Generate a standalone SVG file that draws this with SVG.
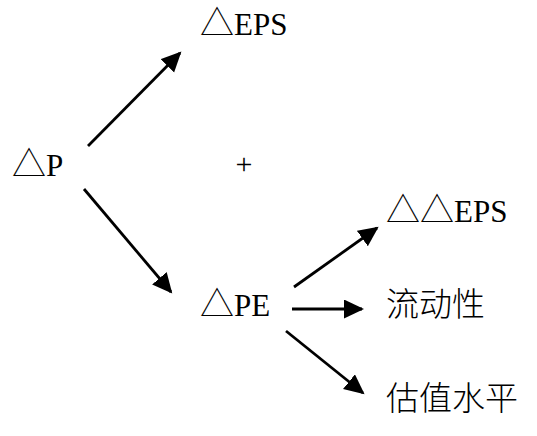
<svg xmlns="http://www.w3.org/2000/svg" width="537" height="436" viewBox="0 0 537 436">
<style>
.t{font-family:"Liberation Serif","Noto Sans CJK SC",serif;font-size:31px;fill:#000}
.d{font-family:"Noto Sans CJK SC",sans-serif;font-size:34px;font-weight:300}
.c{font-family:"Noto Sans CJK SC","Liberation Serif",sans-serif;font-size:33px;font-weight:300;fill:#000}
.a{stroke:#000;stroke-width:2.8;fill:none;marker-end:url(#ah)}
</style>
<defs>
<marker id="ah" markerUnits="userSpaceOnUse" markerWidth="22" markerHeight="20" refX="18" refY="9.5" orient="auto">
<path d="M0,0 L20,9.5 L0,19 z" fill="#000"/>
</marker>
</defs>
<rect width="537" height="436" fill="#fff"/>
<g id="connectors">
<line class="a" x1="88" y1="146" x2="180" y2="53"/>
<line class="a" x1="84" y1="189" x2="171" y2="292"/>
<line class="a" x1="294" y1="287" x2="377" y2="228"/>
<line class="a" x1="292" y1="309" x2="362" y2="309"/>
<line class="a" x1="286" y1="331" x2="363" y2="393"/>
</g>
<g id="dP"><text class="t" x="12" y="176"><tspan class="d">△</tspan>P</text></g>
<g id="dEPS"><text class="t" x="200" y="35"><tspan class="d">△</tspan>EPS</text></g>
<g id="plus"><text class="t" x="244" y="174" text-anchor="middle" style="font-size:30px">+</text></g>
<g id="dPE"><text class="t" x="200" y="316"><tspan class="d">△</tspan>PE</text></g>
<g id="ddEPS"><text class="t" x="386" y="222"><tspan class="d">△△</tspan>EPS</text></g>
<g id="liquidity"><text class="c" x="386" y="316">流动性</text></g>
<g id="valuation"><text class="c" x="386" y="410">估值水平</text></g>
</svg>
